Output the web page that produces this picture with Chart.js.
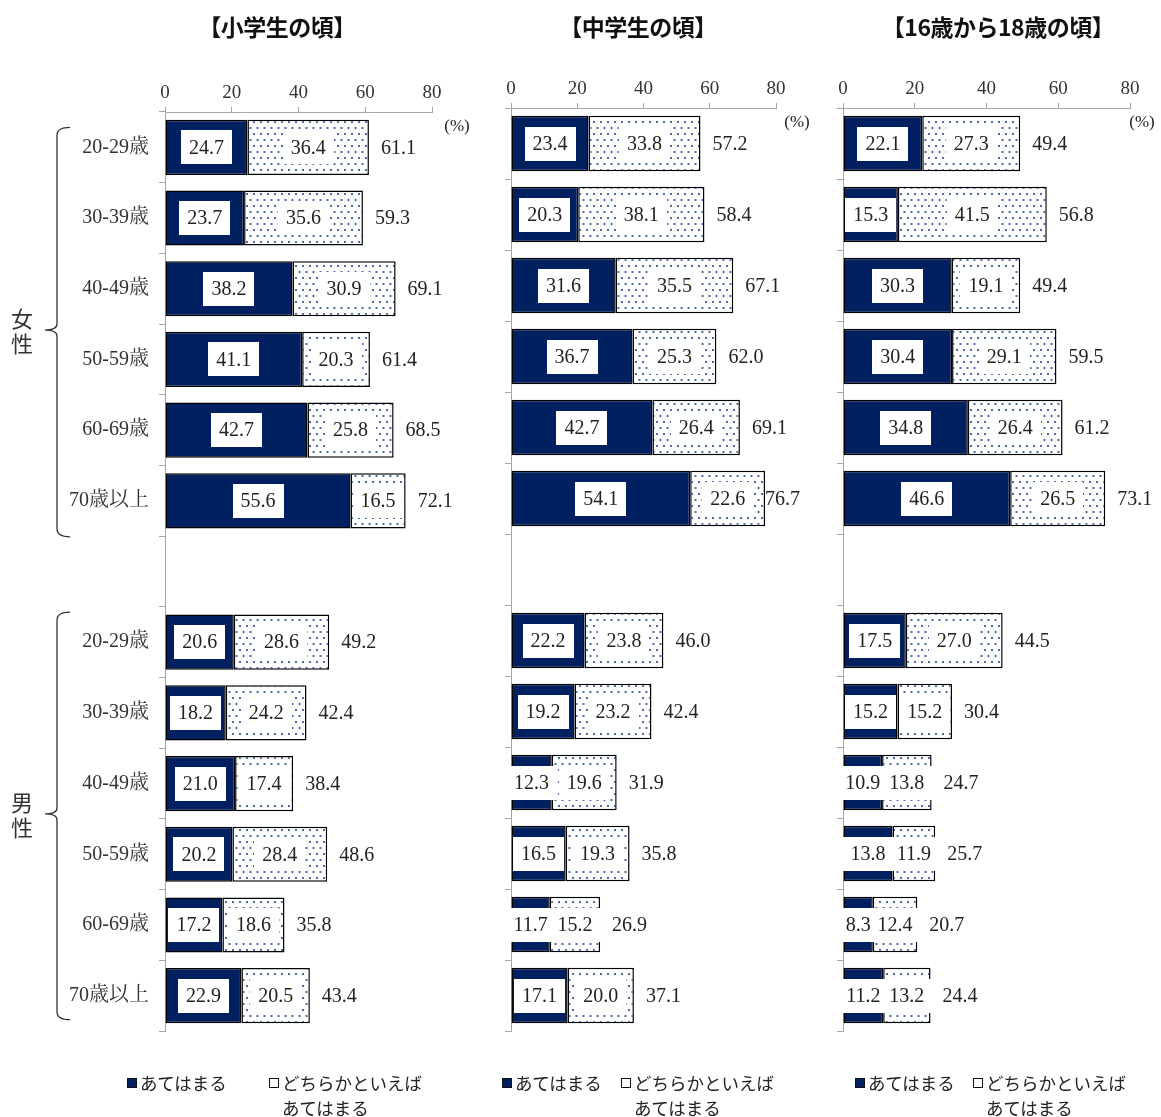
<!DOCTYPE html>
<html>
<head>
<meta charset="utf-8">
<script src="https://cdn.jsdelivr.net/npm/chart.js@4.4.1/dist/chart.umd.min.js"></script>
<style>
  body { margin: 0; background: #fff; }
  #wrap { position: relative; width: 1161px; height: 1117px; overflow: hidden; }
  canvas { position: absolute; top: 0; }
  .title { position: absolute; top: 9px; width: 320px; text-align: center;
           font: bold 23px "Noto Sans CJK JP", sans-serif; color: #111; letter-spacing: -0.5px; }
  .lg { position: absolute; top: 1070px; padding-left: 13px; white-space: pre-line;
        font: 17.5px "Noto Sans CJK JP", sans-serif; line-height: 25px; color: #222; }
  .sw { position: absolute; left: 0; top: 8px; width: 8px; height: 8px; border: 1.5px solid #111; }
</style>
</head>
<body>
<div id="wrap">
  <canvas id="c1" width="470" height="1117" style="left:0px"></canvas>
  <canvas id="c2" width="330" height="1117" style="left:480px"></canvas>
  <canvas id="c3" width="346" height="1117" style="left:815px"></canvas>
</div>
<script>
var ageLabels = ['20-29歳', '30-39歳', '40-49歳', '50-59歳', '60-69歳', '70歳以上', '',
                 '20-29歳', '30-39歳', '40-49歳', '50-59歳', '60-69歳', '70歳以上'];
var groupLabels = ['女性', '男性'];
var seriesNames = ['あてはまる', 'どちらかといえば\nあてはまる'];
var panelTitles = ['【小学生の頃】', '【中学生の頃】', '【16歳から18歳の頃】'];
var xTicks = [0, 20, 40, 60, 80];

// 小学生の頃
var elemYes   = [24.7, 23.7, 38.2, 41.1, 42.7, 55.6, null, 20.6, 18.2, 21.0, 20.2, 17.2, 22.9];
var elemSome  = [36.4, 35.6, 30.9, 20.3, 25.8, 16.5, null, 28.6, 24.2, 17.4, 28.4, 18.6, 20.5];
var elemTotal = [61.1, 59.3, 69.1, 61.4, 68.5, 72.1, null, 49.2, 42.4, 38.4, 48.6, 35.8, 43.4];
// 中学生の頃
var juniorYes   = [23.4, 20.3, 31.6, 36.7, 42.7, 54.1, null, 22.2, 19.2, 12.3, 16.5, 11.7, 17.1];
var juniorSome  = [33.8, 38.1, 35.5, 25.3, 26.4, 22.6, null, 23.8, 23.2, 19.6, 19.3, 15.2, 20.0];
var juniorTotal = [57.2, 58.4, 67.1, 62.0, 69.1, 76.7, null, 46.0, 42.4, 31.9, 35.8, 26.9, 37.1];
// 16歳から18歳の頃
var seniorYes   = [22.1, 15.3, 30.3, 30.4, 34.8, 46.6, null, 17.5, 15.2, 10.9, 13.8, 8.3, 11.2];
var seniorSome  = [27.3, 41.5, 19.1, 29.1, 26.4, 26.5, null, 27.0, 15.2, 13.8, 11.9, 12.4, 13.2];
var seniorTotal = [49.4, 56.8, 49.4, 59.5, 61.2, 73.1, null, 44.5, 30.4, 24.7, 25.7, 20.7, 24.4];

var NAVY = '#002060';
var AXIS = '#a6a6a6';
var SERIF = '"Liberation Serif", "Noto Serif CJK JP", "Noto Sans CJK JP", serif';

function dotPattern() {
  var c = document.createElement('canvas');
  c.width = 7; c.height = 12;
  var g = c.getContext('2d');
  g.fillStyle = '#fff';
  g.fillRect(0, 0, 7, 12);
  g.fillStyle = '#4d6aab';
  g.fillRect(1, 1, 2, 2);
  g.fillRect(4.5, 7, 2, 2);
  return g.createPattern(c, 'repeat');
}

function labelsPlugin(totals, pctDx) {
  return {
    id: 'valueLabels',
    afterDatasetsDraw: function (chart) {
      var ctx = chart.ctx, xs = chart.scales.x, ys = chart.scales.y, area = chart.chartArea;
      ctx.save();
      ctx.font = '20px ' + SERIF;
      ctx.textBaseline = 'middle';
      var items = [];
      chart.data.datasets.forEach(function (ds, di) {
        chart.getDatasetMeta(di).data.forEach(function (bar, i) {
          var v = ds.data[i];
          if (v == null) return;
          var t = v.toFixed(1);
          items.push({ t: t, x: (bar.x + bar.base) / 2, y: bar.y, w: ctx.measureText(t).width });
        });
      });
      ctx.fillStyle = '#fff';
      items.forEach(function (it) {
        ctx.fillRect(Math.round(it.x - it.w / 2 - 8), Math.round(it.y - 17), Math.round(it.w + 16), 34);
      });
      ctx.fillStyle = '#222';
      ctx.textAlign = 'center';
      items.forEach(function (it) { ctx.fillText(it.t, it.x, it.y + 1); });

      // totals right of the bars
      ctx.textAlign = 'left';
      totals.forEach(function (v, i) {
        if (v == null) return;
        var t = v.toFixed(1), w = ctx.measureText(t).width;
        var x = xs.getPixelForValue(v) + 12;
        if (x + w > area.right + 24) x = area.right + 24 - w;
        ctx.fillText(t, x, ys.getPixelForValue(i) + 1);
      });

      ctx.font = '17px ' + SERIF;
      ctx.textAlign = 'center';
      ctx.fillText('(%)', area.right + pctDx, area.top + 15);
      ctx.restore();
    }
  };
}

var bracePlugin = {
  id: 'braces',
  afterDraw: function (chart) {
    var ctx = chart.ctx, ys = chart.scales.y;
    var groups = [
      { top: ys.getPixelForValue(0) - 20, bottom: ys.getPixelForValue(5) + 36 },
      { top: ys.getPixelForValue(7) - 30, bottom: ys.getPixelForValue(12) + 24 }
    ];
    ctx.save();
    ctx.strokeStyle = '#333';
    ctx.lineWidth = 1.3;
    groups.forEach(function (g, gi) {
      var x = 57, mid = (g.top + g.bottom) / 2 - 2;
      ctx.beginPath();
      ctx.moveTo(70, g.top);
      ctx.quadraticCurveTo(x, g.top, x, g.top + 8);
      ctx.lineTo(x, mid - 6);
      ctx.quadraticCurveTo(x, mid, 45, mid);
      ctx.quadraticCurveTo(x, mid, x, mid + 6);
      ctx.lineTo(x, g.bottom - 8);
      ctx.quadraticCurveTo(x, g.bottom, 70, g.bottom);
      ctx.stroke();
      ctx.fillStyle = '#333';
      ctx.font = '22px "Noto Sans CJK JP", sans-serif';
      ctx.textAlign = 'center';
      ctx.textBaseline = 'middle';
      var txt = groupLabels[gi];
      ctx.fillText(txt.charAt(0), 22, mid - 11);
      ctx.fillText(txt.charAt(1), 22, mid + 14);
    });
    ctx.restore();
  }
};

function makePanel(id, yes, some, totals, geo) {
  var plugins = [labelsPlugin(totals, geo.pctDx)];
  if (geo.showLabels) plugins.push(bracePlugin);
  return new Chart(document.getElementById(id), {
    type: 'bar',
    data: {
      labels: ageLabels,
      datasets: [
        { label: seriesNames[0], data: yes, backgroundColor: NAVY, borderColor: '#000',
          borderWidth: 1.5, borderSkipped: false },
        { label: seriesNames[1], data: some, backgroundColor: dotPattern(), borderColor: '#000',
          borderWidth: 1.5, borderSkipped: false }
      ]
    },
    options: {
      indexAxis: 'y',
      responsive: false,
      animation: false,
      barPercentage: 0.78,
      categoryPercentage: 1,
      layout: { padding: { left: 0, top: 0, right: geo.right, bottom: 86 } },
      plugins: { legend: { display: false }, tooltip: { enabled: false } },
      scales: {
        x: {
          position: 'top', stacked: true, min: 0, max: 80,
          afterBuildTicks: function (s) { s.ticks = xTicks.map(function (v) { return { value: v }; }); },
          afterFit: function (s) { s.height = geo.top; },
          ticks: { font: { size: 19, family: SERIF }, color: '#333', padding: 3, maxRotation: 0 },
          grid: { drawOnChartArea: false, tickLength: 5, color: AXIS },
          border: { display: true, color: AXIS }
        },
        y: {
          stacked: true,
          afterFit: function (s) { s.width = geo.left; },
          ticks: { display: geo.showLabels, font: { size: 20, family: SERIF }, color: '#333', padding: 10 },
          grid: { drawOnChartArea: false, tickLength: 6, color: AXIS, offset: true },
          border: { display: true, color: AXIS }
        }
      }
    },
    plugins: plugins
  });
}

makePanel('c1', elemYes, elemSome, elemTotal, { left: 165, top: 112, right: 38, pctDx: 25, showLabels: true });
makePanel('c2', juniorYes, juniorSome, juniorTotal, { left: 31, top: 108, right: 34, pctDx: 21, showLabels: false });
makePanel('c3', seniorYes, seniorSome, seniorTotal, { left: 28, top: 108, right: 31, pctDx: 12, showLabels: false });

// titles and legends
var wrap = document.getElementById('wrap');
var titleCenters = [277, 638, 998];
panelTitles.forEach(function (t, i) {
  var d = document.createElement('div');
  d.className = 'title';
  d.style.left = (titleCenters[i] - 160) + 'px';
  d.textContent = t;
  wrap.appendChild(d);
});
var legendPos = [[127, 269], [502, 621], [855, 973]];
legendPos.forEach(function (p) {
  seriesNames.forEach(function (name, si) {
    var d = document.createElement('div');
    d.className = 'lg';
    d.style.left = p[si] + 'px';
    var sw = document.createElement('span');
    sw.className = 'sw';
    sw.style.background = si === 0 ? NAVY : '#fff';
    d.appendChild(sw);
    d.appendChild(document.createTextNode(name));
    wrap.appendChild(d);
  });
});
</script>
</body>
</html>
